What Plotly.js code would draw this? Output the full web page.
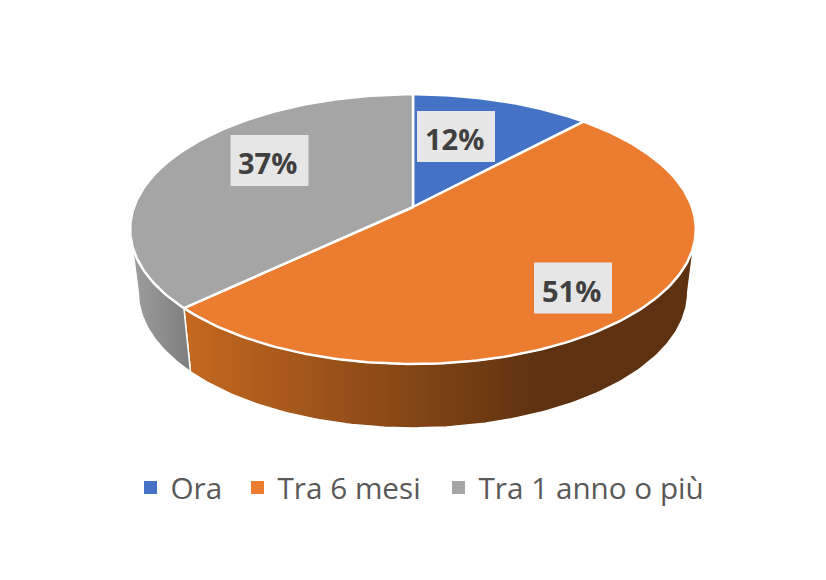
<!DOCTYPE html>
<html>
<head>
<meta charset="utf-8">
<script src="https://cdn.plot.ly/plotly-3.0.1.min.js"></script>
<style>html,body{margin:0;padding:0;background:#fff}#chart{width:826px;height:580px}</style>
</head>
<body>
<div id="chart"></div>
<script>
const categories = ["Ora", "Tra 6 mesi", "Tra 1 anno o più"];
const values = [12, 51, 37];
const topColors = ["#4472C4", "#EB7C30", "#A5A5A5"];
const labelX = [456, 573, 269.5];
const labelY = [136.5, 288, 160.5];
const legendLeft = [130.5, 237.5, 438.5];

// Projection of the tilted disc on the page
const persp = 0.164;
const topFace = {cx: 413, cy: 207, a: 279, s: 131.2};
const baseFace = {cx: 413, cy: 270, a: 271, s: 132};
const rad = Math.PI / 180;
function project(face, deg) {
  const X = Math.sin(deg * rad), Y = Math.cos(deg * rad), d = 1 + persp * Y;
  return [face.cx + face.a * X / d, face.cy - face.s * Y / d];
}
function arc(face, from, to) {
  const pts = [], n = Math.max(2, Math.ceil(Math.abs(to - from)));
  for (let i = 0; i <= n; i++) pts.push(project(face, from + (to - from) * i / n));
  return pts;
}
const total = values.reduce((a, b) => a + b, 0);
let acc = 0;
const bounds = values.map(v => { const s = acc; acc += v; return [s / total * 360, acc / total * 360]; });
const rightEdge = 90 + Math.asin(persp) / rad;
const leftEdge = 270 - Math.asin(persp) / rad;

function wall(from, to, grad) {
  const pts = arc(topFace, from, to).concat(arc(baseFace, to, from));
  pts.push(pts[0]);
  return {type: "scatter", mode: "lines", x: pts.map(p => p[0]), y: pts.map(p => p[1]),
    fill: "toself", fillgradient: grad, line: {color: "#ffffff", width: 1.5},
    hoverinfo: "skip", showlegend: false};
}
const traces = [
  wall(rightEdge, bounds[1][1], {type: "horizontal", start: 188, stop: 540,
    colorscale: [[0, "#C4681F"], [1, "#5E3210"]]}),
  wall(bounds[1][1], leftEdge, {type: "horizontal", start: 135, stop: 188,
    colorscale: [[0, "#9C9C9C"], [1, "#7F7F7F"]]})
];
bounds.forEach((b, i) => {
  const pts = [[topFace.cx, topFace.cy]].concat(arc(topFace, b[0], b[1]));
  pts.push(pts[0]);
  traces.push({type: "scatter", mode: "lines", x: pts.map(p => p[0]), y: pts.map(p => p[1]),
    fill: "toself", fillcolor: topColors[i], line: {color: "#ffffff", width: 2.5},
    name: categories[i], hoverinfo: "skip", showlegend: false});
});
const legendKeys = ["legend", "legend2", "legend3"];
categories.forEach((c, i) => {
  traces.push({type: "scatter", mode: "markers", x: [null], y: [null], name: c, legend: legendKeys[i],
    marker: {symbol: "square", size: 13, color: topColors[i]}, hoverinfo: "skip", showlegend: true});
});

const layout = {
  width: 826, height: 580, margin: {l: 0, r: 0, t: 0, b: 0},
  paper_bgcolor: "#ffffff", plot_bgcolor: "#ffffff",
  xaxis: {range: [0, 826], visible: false, fixedrange: true},
  yaxis: {range: [580, 0], visible: false, fixedrange: true},
  shapes: values.map((v, i) => ({
    type: "rect", xref: "x", yref: "y", layer: "above", line: {width: 0}, fillcolor: "#E6E6E6",
    x0: labelX[i] - 39, x1: labelX[i] + 39, y0: labelY[i] - 25.5, y1: labelY[i] + 25.5
  })),
  annotations: values.map((v, i) => ({
    x: labelX[i], y: labelY[i], xshift: -2, yshift: -2, xref: "x", yref: "y", text: "<b>" + v + "%</b>", showarrow: false,
    font: {family: "Open Sans", size: 29, color: "#404040"}
  }))
};
legendKeys.forEach((k, i) => {
  layout[k] = {orientation: "h", x: legendLeft[i] / 826, xanchor: "left", y: 0.159, yanchor: "middle",
    font: {family: "Open Sans", size: 29.7, color: "#595959"}, bgcolor: "rgba(0,0,0,0)"};
});
Plotly.newPlot("chart", traces, layout, {staticPlot: true, displayModeBar: false});
</script>
</body>
</html>
